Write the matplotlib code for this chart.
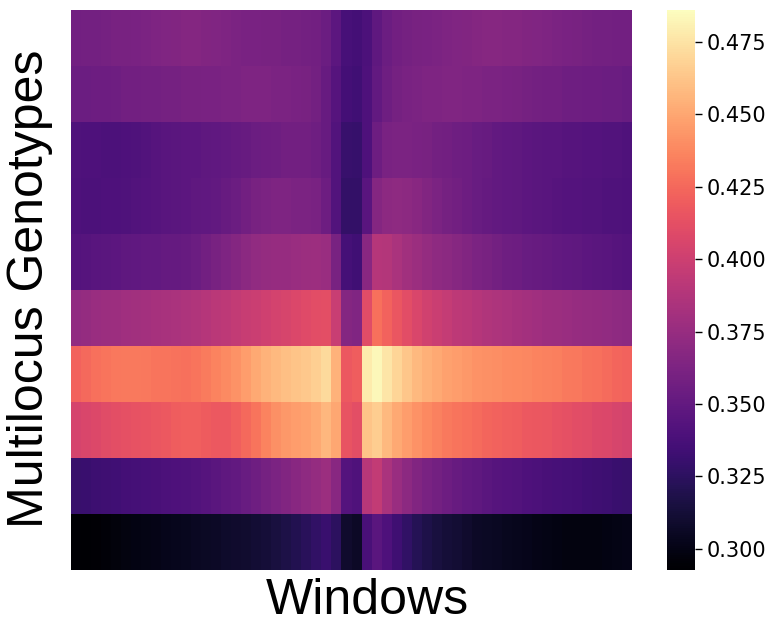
import numpy as np
import matplotlib
matplotlib.use("Agg")
import matplotlib.pyplot as plt

# Heat values per multilocus genotype (rows, top to bottom) across windows (columns)
row0 = [0.357,0.358,0.358,0.359,0.360, 0.360,0.361,0.362,0.363,0.364, 0.365,0.366,0.366,0.365,0.364,
        0.363,0.362,0.361, 0.361,0.360,0.360,0.359,0.359, 0.358,0.357,0.354, 0.347,
        0.337,0.335,0.339,0.348, 0.354,0.357,0.359,0.360, 0.361,0.362,0.363,0.364,0.365,0.366,
        0.367,0.367,0.366,0.366,0.365, 0.364,0.363,0.362,0.361,0.360, 0.359,0.358,0.358,0.357,0.357]
row1 = [0.354,0.354,0.355,0.355,0.356, 0.357,0.357,0.358,0.358,0.359, 0.359,0.360,0.360,0.361,0.361,
        0.362,0.362,0.363,0.363,0.363, 0.362,0.362,0.361,0.360,0.358, 0.352,0.344,
        0.335,0.334,0.340,0.350, 0.356,0.359,0.361,0.362,0.363, 0.363,0.364,0.364,0.363,0.363,
        0.362,0.362,0.361,0.360,0.359, 0.358,0.357,0.357,0.356,0.356, 0.355,0.355,0.354,0.354,0.353]
row2 = [0.341,0.340,0.340,0.339,0.339, 0.340,0.341,0.342,0.344,0.345, 0.346,0.347,0.347,0.348,0.349,
        0.350,0.351,0.352,0.354,0.355, 0.356,0.357,0.357,0.357,0.356, 0.352,0.342,
        0.330,0.329,0.340,0.355, 0.361,0.362,0.362,0.361,0.360, 0.358,0.357,0.356,0.355,0.353,
        0.352,0.350,0.349,0.348,0.347, 0.346,0.345,0.345,0.344,0.344, 0.343,0.343,0.342,0.342,0.341]
row3 = [0.340,0.339,0.339,0.340,0.340, 0.341,0.342,0.343,0.344,0.345, 0.346,0.347,0.348,0.349,0.350,
        0.352,0.354,0.357,0.360,0.362, 0.363,0.363,0.362,0.362,0.361, 0.355,0.342,
        0.328,0.328,0.345,0.366, 0.370,0.371,0.370,0.368,0.365, 0.362,0.359,0.357,0.355,0.353,
        0.351,0.350,0.349,0.348,0.347, 0.346,0.345,0.344,0.343,0.343, 0.342,0.342,0.341,0.341,0.340]
row4 = [0.343,0.344,0.345,0.346,0.347, 0.348,0.349,0.350,0.350,0.351, 0.351,0.352,0.354,0.357,0.360,
        0.363,0.366,0.369,0.372,0.374, 0.375,0.375,0.376,0.377,0.378, 0.376,0.360,
        0.336,0.334,0.368,0.389, 0.388,0.384,0.380,0.377,0.374, 0.371,0.369,0.367,0.365,0.362,
        0.360,0.358,0.356,0.355,0.353, 0.352,0.351,0.350,0.349,0.348, 0.347,0.346,0.345,0.344,0.343]
row5 = [0.372,0.374,0.376,0.377,0.378, 0.379,0.380,0.381,0.382,0.383, 0.384,0.385,0.387,0.389,0.391,
        0.393,0.395,0.397,0.399,0.401, 0.403,0.405,0.407,0.409,0.411, 0.412,0.398,
        0.366,0.364,0.410,0.428, 0.422,0.416,0.411,0.406,0.402, 0.399,0.396,0.393,0.391,0.389,
        0.387,0.385,0.384,0.382,0.381, 0.379,0.378,0.377,0.376,0.375, 0.374,0.373,0.372,0.371,0.370]
row6 = [0.422,0.425,0.428,0.430,0.431, 0.432,0.432,0.431,0.430,0.430, 0.429,0.428,0.430,0.433,0.436,
        0.439,0.442,0.446,0.451,0.455, 0.458,0.460,0.462,0.464,0.467, 0.471,0.455,
        0.418,0.420,0.478,0.483, 0.476,0.469,0.463,0.458,0.454, 0.451,0.448,0.446,0.444,0.442,
        0.441,0.440,0.439,0.438,0.437, 0.436,0.435,0.434,0.432,0.431, 0.429,0.428,0.426,0.424,0.422]
row7 = [0.404,0.406,0.408,0.410,0.412, 0.413,0.414,0.415,0.416,0.418, 0.420,0.421,0.421,0.419,0.418,
        0.418,0.421,0.425,0.430,0.436, 0.441,0.444,0.446,0.448,0.451, 0.457,0.450,
        0.415,0.412,0.462,0.466, 0.458,0.451,0.446,0.442,0.438, 0.435,0.432,0.430,0.428,0.426,
        0.424,0.422,0.421,0.420,0.418, 0.417,0.416,0.414,0.413,0.411, 0.410,0.408,0.407,0.405,0.403]
row8 = [0.330,0.331,0.332,0.333,0.334, 0.335,0.336,0.337,0.338,0.339, 0.340,0.341,0.342,0.344,0.346,
        0.348,0.350,0.353,0.356,0.359, 0.362,0.365,0.368,0.371,0.374, 0.377,0.368,
        0.343,0.341,0.390,0.395, 0.384,0.376,0.370,0.365,0.361, 0.358,0.355,0.352,0.350,0.348,
        0.346,0.344,0.343,0.342,0.340, 0.339,0.338,0.337,0.336,0.335, 0.334,0.333,0.332,0.331,0.330]
row9 = [0.293,0.293,0.294,0.295,0.297, 0.298,0.299,0.300,0.301,0.302, 0.303,0.304,0.305,0.306,0.307,
        0.308,0.309,0.310,0.311,0.313, 0.315,0.317,0.320,0.323,0.327, 0.331,0.325,
        0.309,0.307,0.338,0.346, 0.340,0.333,0.327,0.322,0.318, 0.315,0.313,0.311,0.309,0.307,
        0.306,0.305,0.304,0.303,0.302, 0.301,0.300,0.299,0.298,0.298, 0.298,0.298,0.299,0.300,0.301]

rows = [row0, row1, row2, row3, row4, row5, row6, row7, row8, row9]
cbar_ticks = [0.300, 0.325, 0.350, 0.375, 0.400, 0.425, 0.450, 0.475]
vmin, vmax = 0.2927, 0.486

data = np.array(rows)

fig = plt.figure(figsize=(7.72, 6.27), dpi=100)
W, H = 772, 627
ax = fig.add_axes([71 / W, 1 - 570 / H, (632 - 71) / W, (570 - 10) / H])
mesh = ax.pcolormesh(data, cmap="magma", vmin=vmin, vmax=vmax, shading="flat",
                     linewidth=0, antialiased=False, rasterized=True)
ax.set_xlim(0, data.shape[1])
ax.set_ylim(data.shape[0], 0)
ax.set_xticks([])
ax.set_yticks([])
for s in ax.spines.values():
    s.set_visible(False)

cax = fig.add_axes([667 / W, 1 - 570 / H, 28 / W, (570 - 10) / H])
cb = fig.colorbar(mesh, cax=cax, ticks=cbar_ticks)
cb.outline.set_visible(False)
cb.ax.tick_params(labelsize=15, length=5, width=1)
cb.ax.set_yticklabels([f"{t:.3f}" for t in cbar_ticks])

fig.text(30 / W, 1 - 289 / H, "Multilocus Genotypes", rotation=90, ha="center", va="center",
         fontsize=36, family="Liberation Sans")
fig.text(367 / W, 1 - 601 / H, "Windows", ha="center", va="center",
         fontsize=36, family="Liberation Sans")

fig.savefig("out.png", dpi=100)
